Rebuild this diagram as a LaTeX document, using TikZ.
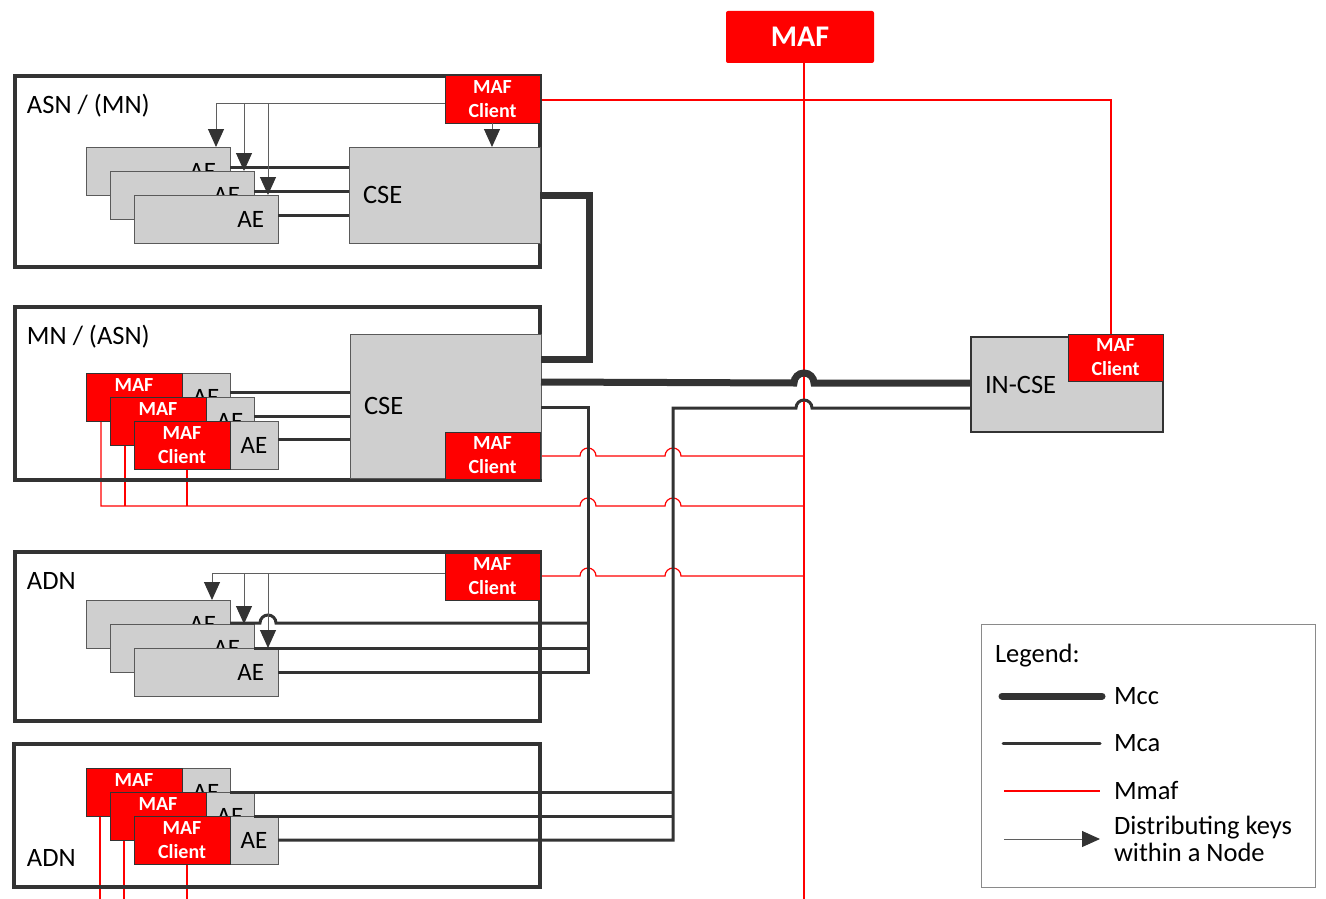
\documentclass[tikz,border=0pt]{standalone}
\usepackage{fontspec}
\setmainfont{Carlito}
\usetikzlibrary{arrows.meta,backgrounds}
\definecolor{mafred}{HTML}{FF0000}
\definecolor{aegray}{HTML}{CFCFCF}
\definecolor{dark}{HTML}{333333}
\definecolor{boxline}{HTML}{5A5A5A}
\definecolor{keygray}{HTML}{5F5F5F}
\definecolor{leggray}{HTML}{8A8A8A}
\newcommand\aefont{\fontsize{25}{28}\selectfont}
\newcommand\lblfont{\fontsize{26.5}{27}\selectfont}
\newcommand\mcfont{\bfseries\fontsize{20}{24}\selectfont}
\newcommand\maffont{\bfseries\fontsize{30}{34}\selectfont}
\begin{document}
\begin{tikzpicture}[x=1pt,y=-1pt,
 every node/.style={inner sep=0pt,outer sep=0pt},
 container/.style={draw=dark,line width=4pt,anchor=north west,minimum width=525pt},
 aebox/.style={draw=boxline,line width=1pt,fill=aegray,anchor=north west,minimum height=48pt,inner xsep=14pt,text width=116pt,align=right,font=\aefont},
 aesmall/.style={draw=boxline,line width=1pt,fill=aegray,anchor=north west,minimum width=48pt,minimum height=48pt,font=\aefont},
 mafae/.style={draw=dark,line width=1pt,fill=mafred,anchor=north west,minimum width=96pt,minimum height=48pt,text=white,font=\mcfont,align=center},
 mafcl/.style={draw=dark,line width=1pt,fill=mafred,anchor=north west,minimum width=95pt,minimum height=47pt,text=white,font=\mcfont,align=center},
 csebox/.style={draw=boxline,line width=1pt,fill=aegray,anchor=north west,inner xsep=14pt,align=left,font=\lblfont},
 lbl/.style={anchor=west,font=\lblfont},
 mcc/.style={draw=dark,line width=7pt},
 mca/.style={draw=dark,line width=3pt},
 mmaf/.style={color=mafred,line width=1.2pt},
 keyarrow/.style={draw=keygray,line width=1pt,-{Triangle[length=18pt,width=16pt,color=dark]}},
]
\useasboundingbox (0,0) rectangle (1326,899);

% MAF
\node[fill=mafred,rounded corners=2pt,anchor=north west,minimum width=148pt,minimum height=52pt,text=white,font=\maffont] (maf) at (726,11) {MAF};

% ASN / (MN)
\node[container,minimum height=191pt] (asn) at (15,76) {};
\node[lbl] (asnlbl) at (27,106) {ASN / (MN)};
\node[aebox] (aae1) at (86,147) {AE};
\node[aebox] (aae2) at (110,171) {AE};
\node[aebox] (aae3) at (134,195) {AE};
\node[csebox,minimum width=191pt,minimum height=96pt,text width=163pt] (acse) at (349,147) {CSE};
\node[mafcl] (asnmc) at (445,76) {MAF\\Client};

% MN / (ASN)
\node[container,minimum height=173pt] (mn) at (15,307) {};
\node[lbl] (mnlbl) at (27,337) {MN / (ASN)};
\node[aesmall] (mae1) at (182,373) {AE};
\node[mafae] (mm1) at (86,373) {MAF\\Client};
\node[aesmall] (mae2) at (206,397) {AE};
\node[mafae] (mm2) at (110,397) {MAF\\Client};
\node[aesmall] (mae3) at (230,421) {AE};
\node[mafae] (mm3) at (134,421) {MAF\\Client};
\node[csebox,minimum width=191pt,minimum height=144pt,text width=163pt] (mcse) at (350,334) {CSE};
\node[mafcl] (mcmc) at (445,432) {MAF\\Client};

% ADN
\node[container,minimum height=169pt] (adn) at (15,552) {};
\node[lbl] (adnlbl) at (27,581) {ADN};
\node[aebox] (dae1) at (86,600) {AE};
\node[aebox] (dae2) at (110,624) {AE};
\node[aebox] (dae3) at (134,648) {AE};
\node[mafcl] (dmc) at (445,553) {MAF\\Client};

% ADN (bottom)
\node[container,minimum width=526pt,minimum height=143pt] (adnb) at (14,744) {};
\node[lbl] (adnblbl) at (27,858) {ADN};
\node[aesmall] (bae1) at (182,768) {AE};
\node[mafae] (bm1) at (86,768) {MAF\\Client};
\node[aesmall] (bae2) at (206,792) {AE};
\node[mafae] (bm2) at (110,792) {MAF\\Client};
\node[aesmall] (bae3) at (230,816) {AE};
\node[mafae] (bm3) at (134,816) {MAF\\Client};

% IN-CSE
\node[csebox,draw=dark,line width=1.5pt,minimum width=192pt,minimum height=95pt,text width=164pt] (incse) at (971,337) {IN-CSE};
\node[mafcl] (inmc) at (1068,334) {MAF\\Client};

% Mmaf lines (behind)
\begin{pgfonlayer}{background}
\draw[mmaf] (804,0 |- maf.south) -- (804,899);
\draw[mmaf] (asnmc.east |- 0,100) -- (804,100);
\draw[mmaf] (804,100) -- (1111,100) -- (1111,0 |- inmc.north);
\draw[mmaf] (mcmc.east |- 0,456) -- (580,456) arc[start angle=180,end angle=0,radius=8pt]
   -- (665,456) arc[start angle=180,end angle=0,radius=8pt] -- (804,456);
\draw[mmaf] (101,0 |- mm1.south) |- (580,506) arc[start angle=180,end angle=0,radius=8pt]
   -- (665,506) arc[start angle=180,end angle=0,radius=8pt] -- (804,506);
\draw[mmaf] (125,0 |- mm2.south) -- (125,506);
\draw[mmaf] (187,0 |- mm3.south) -- (187,506);
\draw[mmaf] (dmc.east |- 0,576) -- (580,576) arc[start angle=180,end angle=0,radius=8pt]
   -- (665,576) arc[start angle=180,end angle=0,radius=8pt] -- (804,576);
\draw[mmaf] (100,0 |- bm1.south) -- (100,899);
\draw[mmaf] (124,0 |- bm2.south) -- (124,899);
\draw[mmaf] (187,0 |- bm3.south) -- (187,899);
\end{pgfonlayer}

% Mcc
\draw[mcc] (acse.east |- 0,195) -| (589,300) |- (mcse.east |- 0,359);
\draw[mcc] (mcse.east |- 0,382) -- (794,383) arc[start angle=180,end angle=0,radius=10pt] -- (incse.west |- 0,383);

% Mca
\draw[mca] (aae1.east |- 0,167) -- (acse.west |- 0,167);
\draw[mca] (aae2.east |- 0,191) -- (acse.west |- 0,191);
\draw[mca] (aae3.east |- 0,215) -- (acse.west |- 0,215);
\draw[mca] (mae1.east |- 0,392) -- (mcse.west |- 0,392);
\draw[mca] (mae2.east |- 0,416) -- (mcse.west |- 0,416);
\draw[mca] (mae3.east |- 0,439) -- (mcse.west |- 0,439);
\draw[mca] (mcse.east |- 0,407) -| (588,0 |- dae3.east) -- (dae3.east);
\draw[mca] (dae2.east) -- (588,0 |- dae2.east);
\draw[mca] (dae1.east |- 0,623) -- (260,623) arc[start angle=180,end angle=0,radius=8pt] -- (588,623);
\draw[mca] (incse.west |- 0,408) -- (812,408) arc[start angle=0,end angle=180,radius=8pt] -- (673,408) |- (bae3.east);
\draw[mca] (bae1.east) -- (673,0 |- bae1.east);
\draw[mca] (bae2.east) -- (673,0 |- bae2.east);

% key distribution arrows
\draw[keyarrow] (asnmc.west |- 0,103) -| (216,0 |- aae1.north);
\draw[keyarrow] (244,103) -- (244,0 |- aae2.north);
\draw[keyarrow] (268,103) -- (268,0 |- aae3.north);
\draw[keyarrow] (492,0 |- asnmc.south) -- (492,0 |- acse.north);
\draw[keyarrow] (dmc.west |- 0,573) -| (212,0 |- dae1.north);
\draw[keyarrow] (244,573) -- (244,0 |- dae2.north);
\draw[keyarrow] (268,573) -- (268,0 |- dae3.north);

% Legend
\node[draw=leggray,line width=1pt,anchor=north west,minimum width=334pt,minimum height=263pt] (legend) at (981,624) {};
\node[lbl] (legtitle) at (995,656) {Legend:};
\node[lbl] (lmcc) at (1114,696) {Mcc};
\node[lbl] (lmca) at (1114,743) {Mca};
\node[lbl] (lmmaf) at (1114,791) {Mmaf};
\node[lbl,align=left] (lkey) at (1114,839) {Distributing keys\\within a Node};
\draw[mcc,line cap=round] (1002,696) -- ([xshift=-12pt]lmcc.west);
\draw[mca,line cap=round] (1003,743) -- ([xshift=-14pt]lmca.west);
\draw[mmaf] (1004,791) -- ([xshift=-14pt]lmmaf.west);
\draw[keyarrow] (1004,839) -- ([xshift=-14pt]lkey.west);
\end{tikzpicture}
\end{document}
